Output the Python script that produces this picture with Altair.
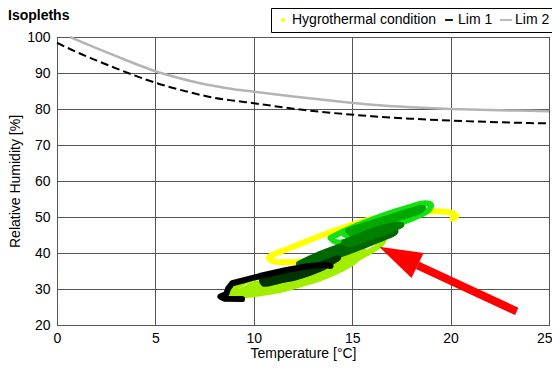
import altair as alt
import pandas as pd

FONT = "Liberation Sans"

# ---- limit curves (Temperature [°C], Relative Humidity [%]) ----
lim1_T = [0, 1, 2, 3, 4, 5, 6, 7, 8, 9, 10, 12, 14, 16, 18, 20, 22, 24, 25]
lim1_RH = [98.4, 95.8, 93.5, 91.3, 89.2, 87.3, 85.7, 84.3, 83.1, 82.3, 81.6,
           80.1, 78.9, 78.0, 77.3, 76.8, 76.4, 76.1, 76.0]
lim2_T = [0.66, 1, 2, 3, 4, 5, 6, 7, 8, 9, 10, 12, 14, 16, 18, 20, 22, 24, 25]
lim2_RH = [100, 99.2, 96.9, 94.7, 92.5, 90.5, 88.9, 87.5, 86.4, 85.5, 84.8,
           83.5, 82.3, 81.2, 80.5, 80.0, 79.7, 79.5, 79.4]

# ---- hygrothermal condition loops ----
yg1_T = [8.9, 9.8, 10.8, 11.8, 12.8, 13.8, 14.8, 15.7, 16.4, 16.6, 16.0, 14.9, 13.8, 12.6, 11.3, 10.0, 9.2, 8.8, 8.9]
yg1_RH = [28.0, 28.4, 29.2, 30.4, 32.3, 34.6, 37.2, 39.8, 42.2, 43.6, 43.4, 41.0, 38.6, 36.0, 34.3, 33.0, 31.0, 29.2, 28.0]
yg2_T = [9.6, 10.8, 12.0, 13.2, 14.3, 15.2, 15.6, 14.6, 13.3, 11.9, 10.7, 9.8, 9.6]
yg2_RH = [29.4, 30.4, 31.9, 34.0, 36.6, 39.0, 40.6, 39.6, 36.4, 33.6, 32.0, 30.8, 29.4]
yg3_T = [9.0, 10.2, 11.4, 12.6, 13.8, 14.8, 15.3, 14.6, 13.4, 12.2, 11.0, 9.8, 9.0]
yg3_RH = [28.4, 29.0, 30.0, 31.6, 33.9, 36.6, 38.8, 38.8, 36.4, 34.0, 32.4, 30.6, 28.4]

y1_T = [15.2, 14.0, 12.9, 11.8, 11.0, 10.75, 11.0, 11.6, 12.4, 13.3, 14.6, 15.9, 17.0, 18.2, 19.3, 20.0, 20.3, 20.1]
y1_RH = [41.6, 39.4, 37.9, 37.4, 37.7, 38.6, 39.6, 40.9, 42.6, 44.6, 47.1, 49.3, 50.6, 51.4, 51.6, 51.2, 50.3, 49.5]

bg1_T = [13.9, 14.8, 15.9, 17.0, 18.0, 18.7, 19.0, 18.9, 18.3, 17.3, 16.2, 15.0, 14.2, 13.9]
bg1_RH = [44.2, 46.6, 49.0, 51.2, 52.9, 53.8, 53.4, 52.0, 50.2, 48.0, 45.8, 43.6, 43.0, 44.2]
bg2_T = [14.6, 15.6, 16.7, 17.8, 18.5, 17.9, 16.8, 15.7, 14.8, 14.6]
bg2_RH = [45.2, 47.3, 49.4, 51.4, 52.3, 50.8, 48.6, 46.5, 44.9, 45.2]

g1_T = [14.8, 15.8, 16.9, 17.9, 18.6, 18.4, 17.6, 16.6, 15.6, 14.9, 14.8]
g1_RH = [46.2, 48.0, 49.8, 51.6, 52.6, 51.6, 50.2, 48.4, 46.6, 45.6, 46.2]

dg1_T = [12.3, 13.3, 14.6, 15.8, 16.9, 17.2, 16.3, 15.1, 13.9, 12.8, 12.3]
dg1_RH = [37.0, 39.6, 42.2, 44.6, 46.8, 46.0, 43.6, 41.0, 38.6, 36.2, 37.0]
dg3_T = [12.8, 13.8, 15.0, 16.2, 16.6, 15.6, 14.4, 13.2, 12.8]
dg3_RH = [37.4, 39.8, 42.4, 44.8, 45.6, 43.4, 40.8, 38.2, 37.4]
dg2_T = [14.6, 15.7, 16.8, 17.5, 16.9, 15.8, 14.8, 14.6]
dg2_RH = [43.0, 45.4, 47.4, 47.8, 46.4, 44.2, 42.4, 43.0]

vd1_T = [10.4, 11.4, 12.5, 13.5, 14.3, 14.0, 13.1, 12.1, 11.1, 10.5, 10.4]
vd1_RH = [32.8, 34.0, 35.3, 37.0, 38.6, 37.6, 35.4, 33.6, 32.0, 31.5, 32.8]
vd2_T = [10.9, 12.0, 13.0, 13.6, 12.8, 11.8, 10.9]
vd2_RH = [32.4, 33.8, 35.2, 36.2, 34.4, 32.8, 32.4]

bk_T = [9.4, 8.5, 8.3, 8.6, 8.7, 8.9, 9.4, 10.3, 11.6, 12.8, 13.6, 13.9]
bk_RH = [27.2, 27.3, 27.9, 28.6, 30.2, 31.6, 32.3, 33.6, 35.2, 36.4, 36.7, 36.4]

loop_groups = [
    ("#a2ee00", [(yg1_T, yg1_RH), (yg2_T, yg2_RH), (yg3_T, yg3_RH)], "catmull-rom"),
    ("#ffff00", [(y1_T, y1_RH)], "catmull-rom"),
    ("#14e014", [(bg1_T, bg1_RH), (bg2_T, bg2_RH)], "catmull-rom"),
    ("#00a800", [(g1_T, g1_RH)], "catmull-rom"),
    ("#006600", [(dg1_T, dg1_RH), (dg3_T, dg3_RH)], "catmull-rom"),
    ("#008000", [(dg2_T, dg2_RH)], "catmull-rom"),
    ("#003300", [(vd1_T, vd1_RH), (vd2_T, vd2_RH)], "catmull-rom"),
    ("#000000", [(bk_T, bk_RH)], "linear"),
]

# ---- red arrow (tail and base of head, data units) ----
arrow_tail_T, arrow_tail_RH = 23.36, 23.78
arrow_base_T, arrow_base_RH = 18.32, 36.53

# ---- legend ----
legend_names = ["Hygrothermal condition", "Lim 1", "Lim 2"]
legend_colors = ["#ffff00", "#000000", "#b4b4b4"]
legend_shapes = [
    "M0.35,0A0.35,0.35 0 1,1 -0.35,0A0.35,0.35 0 1,1 0.35,0Z",
    "M-0.65,-0.15L0.65,-0.15L0.65,0.15L-0.65,0.15Z",
    "M-1,-0.15L1,-0.15L1,0.15L-1,0.15Z",
]

chart_title = "Isopleths"

X = alt.X("T:Q", scale=alt.Scale(domain=[0, 25], nice=False),
          axis=alt.Axis(values=[0, 5, 10, 15, 20, 25], title="Temperature [°C]", titlePadding=1,
                        labelPadding=6,
                        labelAlign={"condition": {"test": "datum.value == 25", "value": "right"}, "value": "center"},
                        labelOffset={"condition": {"test": "datum.value == 25", "value": 3}, "value": 0}))
Y = alt.Y("RH:Q", scale=alt.Scale(domain=[20, 100], nice=False),
          axis=alt.Axis(values=[20, 30, 40, 50, 60, 70, 80, 90, 100], title="Relative Humidity [%]",
                        labelPadding=7))

layers = []
lim1_df = pd.DataFrame({"T": lim1_T, "RH": lim1_RH})
lim2_df = pd.DataFrame({"T": lim2_T, "RH": lim2_RH})
layers.append(alt.Chart(lim2_df).mark_line(color="#b4b4b4", strokeWidth=2.5, interpolate="monotone").encode(x=X, y=Y))
layers.append(alt.Chart(lim1_df).mark_line(color="#000000", strokeWidth=2, strokeDash=[8, 4], interpolate="monotone").encode(x=X, y=Y))

for gi, (col, loops, interp) in enumerate(loop_groups):
    rows = []
    for li, (ts, rs) in enumerate(loops):
        for k, (t, r) in enumerate(zip(ts, rs)):
            rows.append({"T": t, "RH": r, "idx": k, "loop": f"{gi}-{li}"})
    df = pd.DataFrame(rows)
    layers.append(
        alt.Chart(df).mark_line(color=col, strokeWidth=6, interpolate=interp,
                                strokeJoin="round", strokeCap="round")
        .encode(x=X, y=Y, detail="loop:N", order="idx:Q")
    )

arrow_df = pd.DataFrame({"T": [arrow_tail_T], "RH": [arrow_tail_RH],
                         "T2": [arrow_base_T], "RH2": [arrow_base_RH]})
layers.append(alt.Chart(arrow_df).mark_rule(color="#ff0000", strokeWidth=8, strokeCap="butt")
              .encode(x=X, y=Y, x2="T2:Q", y2="RH2:Q"))
head_df = pd.DataFrame({"T": [arrow_base_T], "RH": [arrow_base_RH]})
layers.append(alt.Chart(head_df).mark_point(shape="M0,-1L-0.323,0L0.323,0Z", size=7293, angle=296,
                                            filled=True, color="#ff0000", opacity=1, strokeWidth=0)
              .encode(x=X, y=Y))

LEG = alt.Legend(title=None, orient="none", legendX=214, legendY=-29, direction="horizontal",
                 strokeColor="black", fillColor="white", padding=5, labelFontSize=14, labelFont=FONT,
                 labelColor="black", symbolSize=144, columnPadding=6, labelOffset=2,
                 symbolStrokeWidth=0, symbolOpacity=1)
legend_df = pd.DataFrame({"series": legend_names, "T": [-5.0] * 3, "RH": [50.0] * 3})
layers.append(alt.Chart(legend_df).mark_point(clip=True, filled=True, opacity=1, size=144)
              .encode(x=X, y=Y,
                      color=alt.Color("series:N", scale=alt.Scale(domain=legend_names, range=legend_colors), legend=LEG),
                      shape=alt.Shape("series:N", scale=alt.Scale(domain=legend_names, range=legend_shapes), legend=LEG)))

# chart title drawn as a text mark above the plot, left-aligned to the page edge
title_df = pd.DataFrame({"label": [chart_title]})
layers.append(alt.Chart(title_df).mark_text(align="left", baseline="alphabetic", font=FONT, fontSize=14,
                                            fontWeight="bold", color="black")
              .encode(text="label:N", x=alt.value(-49), y=alt.value(-17)))

chart = alt.layer(*layers).properties(
    width=492, height=288,
    autosize=alt.AutoSizeParams(type="none"),
    padding={"left": 49, "top": 29, "right": 3, "bottom": 38},
).configure_view(stroke="black", strokeWidth=1).configure_axis(
    grid=True, gridColor="#555555", gridWidth=1, ticks=False, domain=False,
    labelFont=FONT, labelFontSize=14, labelColor="black",
    titleFont=FONT, titleFontSize=14, titleFontWeight="normal", titleColor="black",
)

chart.save("out.html", embed_options={"renderer": "svg", "actions": False})
